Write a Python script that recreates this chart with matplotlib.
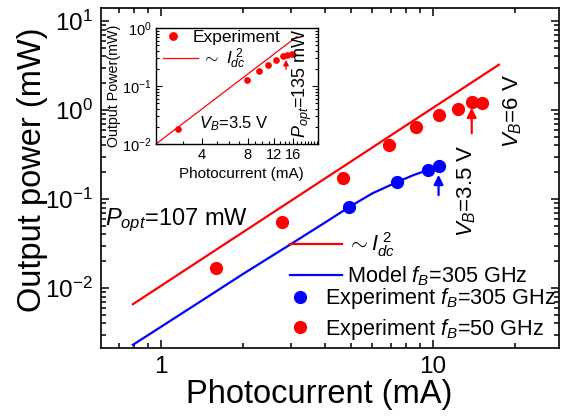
import matplotlib
matplotlib.use("Agg")
import matplotlib.pyplot as plt
import numpy as np
from matplotlib.ticker import FixedLocator, FixedFormatter, LogLocator, MultipleLocator, NullFormatter

plt.rcParams['font.family'] = ['Liberation Sans', 'DejaVu Sans']
plt.rcParams['mathtext.fontset'] = 'custom'
plt.rcParams['mathtext.rm'] = 'Liberation Sans'
plt.rcParams['mathtext.it'] = 'Liberation Sans:italic'
plt.rcParams['mathtext.bf'] = 'Liberation Sans:bold'

RED = '#ff0000'
BLUE = '#0000ff'

# main panel data (mA, mW)
fit_I = [0.79, 17.5]
fit_k = 0.01055  # P = k * I^2

model_I = [0.79, 1.5, 2.0, 3.0, 4.0, 4.92, 6.0, 7.39, 8.5, 9.61, 10.5]
model_P = [0.0023, 0.0081, 0.0143, 0.031, 0.054, 0.081, 0.116, 0.155, 0.186, 0.212, 0.235]

exp305_I = [4.92, 7.39, 9.61, 10.5]
exp305_P = [0.081, 0.155, 0.212, 0.235]

exp50_I = [1.60, 2.79, 4.68, 6.90, 8.68, 10.5, 12.4, 13.9, 15.2]
exp50_P = [0.0168, 0.0552, 0.172, 0.404, 0.644, 0.88, 1.03, 1.23, 1.20]

# inset data
ins_fit_I = [2.0, 16.9]
ins_fit_k = 0.0025
ins_I = [2.78, 7.9, 9.5, 10.9, 12.3, 13.6, 14.5, 15.6]
ins_P = [0.0181, 0.127, 0.182, 0.230, 0.281, 0.329, 0.342, 0.356]

fig = plt.figure(figsize=(5.66, 4.16), dpi=100)
ax = fig.add_axes([101/566, 68/416, 458/566, 340/416])

fi = np.array(fit_I)
l_fit, = ax.plot(fi, fit_k * fi**2, color=RED, lw=1.6)
l_mod, = ax.plot(model_I, model_P, color=BLUE, lw=1.6)
p305, = ax.plot(exp305_I, exp305_P, 'o', color=BLUE, ms=8.5, ls='none')
p50, = ax.plot(exp50_I, exp50_P, 'o', color=RED, ms=8.5, ls='none')

ax.set_xscale('log')
ax.set_yscale('log')
ax.set_xlim(0.603, 29.1)
ax.set_ylim(0.00212, 14.0)

ax.xaxis.set_major_locator(FixedLocator([1, 10]))
ax.xaxis.set_major_formatter(FixedFormatter(['1', '10']))
ax.xaxis.set_minor_locator(LogLocator(base=10, subs=np.arange(2, 10)))
ax.xaxis.set_minor_formatter(NullFormatter())
ax.yaxis.set_minor_locator(LogLocator(base=10, subs=np.arange(2, 10), numticks=20))
ax.yaxis.set_minor_formatter(NullFormatter())
ax.tick_params(which='both', direction='in', top=True, right=True, width=1.1)
ax.tick_params(which='major', length=6, labelsize=17.5, pad=6)
ax.tick_params(which='minor', length=3.5)
for s in ax.spines.values():
    s.set_linewidth(1.2)

ax.set_xlabel('Photocurrent (mA)', fontsize=23.5)
ax.set_ylabel('Output power (mW)', fontsize=23.5)
ax.xaxis.set_label_coords(0.476, -0.09)
ax.yaxis.set_label_coords(-0.116, 0.524)

# arrows marking the saturation points
ax.annotate('', xy=(exp50_I[7], 1.14), xytext=(exp50_I[7], 0.51),
            arrowprops=dict(arrowstyle='-|>', color=RED, lw=1.6, mutation_scale=14))
ax.annotate('', xy=(exp305_I[3], 0.201), xytext=(exp305_I[3], 0.103),
            arrowprops=dict(arrowstyle='-|>', color=BLUE, lw=1.6, mutation_scale=14))

ax.text(0.624, 0.051, '$P_{opt}$=107 mW', fontsize=17, ha='left', va='baseline')
ax.text(19.7, 0.974, '$V_B$=6 V', fontsize=16, rotation=90, ha='center', va='center')
ax.text(13.3, 0.123, '$V_B$=3.5 V', fontsize=16, rotation=90, ha='center', va='center')

leg1 = ax.legend([l_fit, l_mod], [r'$\sim I_{dc}^{\ 2}$', 'Model $f_B$=305 GHz'],
                 loc='center left', bbox_to_anchor=(290/566, 1 - 259.5/416),
                 bbox_transform=fig.transFigure, frameon=False, fontsize=15.6,
                 handlelength=2.4, handletextpad=0.24, borderpad=0, borderaxespad=0,
                 labelspacing=0.25)
ax.add_artist(leg1)
ax.legend([p305, p50], ['Experiment $f_B$=305 GHz', 'Experiment $f_B$=50 GHz'],
          loc='center left', bbox_to_anchor=(289.6/566, 1 - 314/416),
          bbox_transform=fig.transFigure, frameon=False, fontsize=15.6,
          handlelength=1.0, handletextpad=0.65, borderpad=0, borderaxespad=0,
          labelspacing=0.25, numpoints=1)

# inset
axi = fig.add_axes([156/566, 272/416, 162/566, 116/416])
ii = np.array(ins_fit_I)
il, = axi.plot(ii, ins_fit_k * ii**2, color=RED, lw=0.9)
ip, = axi.plot(ins_I, ins_P, 'o', color=RED, ms=3.8, ls='none')
axi.set_xscale('log')
axi.set_yscale('log')
axi.set_xlim(2.0, 23.2)
axi.set_ylim(0.01, 1.0)
axi.xaxis.set_major_locator(FixedLocator([4, 8, 12, 16]))
axi.xaxis.set_major_formatter(FixedFormatter(['4', '8', '12', '16']))
axi.xaxis.set_minor_locator(MultipleLocator(1))
axi.xaxis.set_minor_formatter(NullFormatter())
axi.yaxis.set_minor_locator(LogLocator(base=10, subs=np.arange(2, 10), numticks=20))
axi.yaxis.set_minor_formatter(NullFormatter())
axi.tick_params(which='both', direction='in', right=True, width=0.8)
axi.tick_params(which='major', length=4, labelsize=10.5, pad=3)
axi.tick_params(which='minor', length=2)
for s in axi.spines.values():
    s.set_linewidth(1.0)
axi.set_xlabel('Photocurrent (mA)', fontsize=11)
axi.set_ylabel('Output Power(mW)', fontsize=10.3, labelpad=1)
axi.xaxis.set_label_coords(0.53, -0.2)

axi.annotate('', xy=(14.3, 0.316), xytext=(14.3, 0.174),
             arrowprops=dict(arrowstyle='-|>', color=RED, lw=1.0, mutation_scale=8))
axi.text(0.481, 0.172, '$V_B$=3.5 V', transform=axi.transAxes, fontsize=12,
         ha='center', va='center')
axi.text(0.905, 0.526, '$P_{opt}$=135 mW', transform=axi.transAxes, fontsize=13,
         rotation=90, ha='center', va='center')

leg3 = axi.legend([ip], ['Experiment'], loc='center left',
                  bbox_to_anchor=(164.3/566, 1 - 37/416), bbox_transform=fig.transFigure,
                  frameon=False, fontsize=12.5, handlelength=1.0, handletextpad=0.65,
                  borderpad=0, borderaxespad=0, numpoints=1, markerscale=1.4)
axi.add_artist(leg3)
axi.legend([il], [r'$\sim\ I_{dc}^{\ 2}$'], loc='center left',
           bbox_to_anchor=(163/566, 1 - 59/416), bbox_transform=fig.transFigure,
           frameon=False, fontsize=12.5, handlelength=2.0, handletextpad=0.23,
           borderpad=0, borderaxespad=0)

fig.savefig('out.png', dpi=100)
